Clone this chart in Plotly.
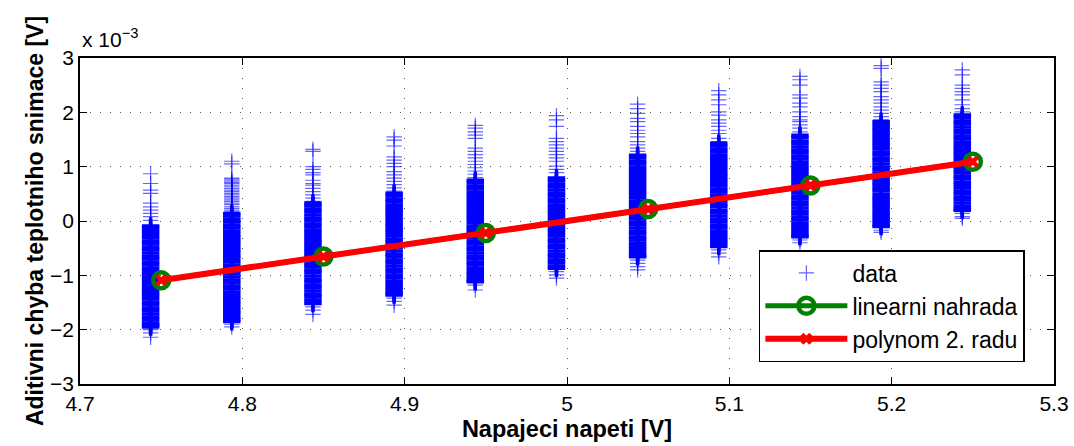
import plotly.graph_objects as go

# Column positions of the measured data [V]
col_x = [4.7435, 4.7935, 4.8435, 4.8935, 4.9435, 4.9935, 5.0435, 5.0935, 5.1435, 5.1935, 5.2435]

# Values in units of 1e-3 V
# sparse (isolated) crosses per column
sparse_1 = [0.87, 0.69, 0.57, 0.51, 0.33, 0.26, 0.20, 0.14, 0.08, 0.01, -2.0, -2.06, -2.14]
sparse_2 = [1.10, 1.05, 0.79, 0.77, 0.74, 0.71, 0.69, 0.66, 0.63, 0.60, 0.57, 0.54, 0.51, 0.48, 0.45,
            0.42, 0.39, 0.36, 0.33, 0.30, 0.26, 0.23, 0.20, 0.17, -1.90, -1.95]
sparse_3 = [1.32, 1.28, 1.0, 0.95, 0.89, 0.85, 0.75, 0.69, 0.66, 0.60, 0.54, 0.48, 0.42, 0.36, -1.58, -1.64, -1.72]
sparse_4 = [1.55, 1.49, 1.38, 1.18, 1.12, 1.06, 1.0, 0.91, 0.85, 0.79, 0.73, 0.67, 0.61, 0.55, -1.42, -1.48, -1.55]
sparse_5 = [1.76, 1.71, 1.64, 1.58, 1.52, 1.34, 1.28, 1.22, 1.16, 1.10, 1.04, 0.98, 0.92, 0.86, 0.80, -1.18, -1.27]
sparse_6 = [1.94, 1.86, 1.74, 1.52, 1.46, 1.40, 1.34, 1.28, 1.22, 1.16, 1.10, 1.01, 0.95, 0.89, -0.93, -0.99, -1.05]
sparse_7 = [2.15, 2.07, 1.98, 1.89, 1.83, 1.74, 1.67, 1.61, 1.55, 1.46, 1.40, 1.34, 1.28, -0.72, -0.78, -0.84, -0.90]
sparse_8 = [2.40, 2.32, 2.23, 2.14, 2.01, 1.95, 1.86, 1.80, 1.74, 1.67, 1.61, 1.52, 1.46, -0.53, -0.59, -0.66]
sparse_9 = [2.66, 2.60, 2.50, 2.32, 2.26, 2.17, 2.10, 2.01, 1.92, 1.86, 1.83, 1.77, 1.71, 1.64, -0.35, -0.40]
sparse_10 = [2.86, 2.81, 2.56, 2.50, 2.44, 2.38, 2.29, 2.23, 2.17, 2.10, 2.04, 1.98, 1.92, 1.86, -0.17, -0.21]
sparse_11 = [2.78, 2.69, 2.50, 2.44, 2.38, 2.32, 2.23, 2.14, 2.07, 2.01, 0.14, 0.08, 0.05]

# dense (overlapping) crosses per column
dense_1 = [-0.09, -0.14, -0.20, -0.25, -0.31, -0.37, -0.42, -0.48, -0.53, -0.59, -0.65, -0.70, -0.76, -0.81,
           -0.87, -0.93, -0.98, -1.04, -1.09, -1.15, -1.21, -1.26, -1.32, -1.37, -1.43, -1.49, -1.54, -1.60,
           -1.65, -1.71, -1.77, -1.82, -1.88, -1.92, -1.95]
dense_2 = [0.14, 0.09, 0.03, -0.02, -0.08, -0.13, -0.19, -0.25, -0.30, -0.36, -0.41, -0.47, -0.53, -0.58,
           -0.64, -0.69, -0.75, -0.81, -0.86, -0.92, -0.97, -1.03, -1.09, -1.14, -1.20, -1.25, -1.31, -1.37,
           -1.42, -1.48, -1.53, -1.59, -1.65, -1.70, -1.76, -1.81, -1.85]
dense_3 = [0.33, 0.28, 0.22, 0.17, 0.11, 0.05, 0.00, -0.06, -0.11, -0.17, -0.23, -0.28, -0.34, -0.39, -0.45,
           -0.51, -0.56, -0.62, -0.67, -0.73, -0.79, -0.84, -0.90, -0.95, -1.01, -1.07, -1.12, -1.18, -1.23,
           -1.29, -1.35, -1.40, -1.46, -1.52]
dense_4 = [0.51, 0.46, 0.40, 0.35, 0.29, 0.23, 0.18, 0.12, 0.07, 0.01, -0.05, -0.10, -0.16, -0.21, -0.27,
           -0.33, -0.38, -0.44, -0.49, -0.55, -0.61, -0.66, -0.72, -0.77, -0.83, -0.89, -0.94, -1.00, -1.05,
           -1.11, -1.17, -1.22, -1.28, -1.33, -1.36]
dense_5 = [0.75, 0.70, 0.64, 0.59, 0.53, 0.47, 0.42, 0.36, 0.31, 0.25, 0.19, 0.14, 0.08, 0.03, -0.03, -0.09,
           -0.14, -0.20, -0.25, -0.31, -0.37, -0.42, -0.48, -0.53, -0.59, -0.65, -0.70, -0.76, -0.81, -0.87,
           -0.93, -0.98, -1.04, -1.09, -1.12]
dense_6 = [0.79, 0.74, 0.68, 0.63, 0.57, 0.51, 0.46, 0.40, 0.35, 0.29, 0.23, 0.18, 0.12, 0.07, 0.01, -0.05,
           -0.10, -0.16, -0.21, -0.27, -0.33, -0.38, -0.44, -0.49, -0.55, -0.61, -0.66, -0.72, -0.77, -0.83, -0.87]
dense_7 = [1.21, 1.16, 1.10, 1.05, 0.99, 0.93, 0.88, 0.82, 0.77, 0.71, 0.65, 0.60, 0.54, 0.49, 0.43, 0.37,
           0.32, 0.26, 0.21, 0.15, 0.09, 0.04, -0.02, -0.07, -0.13, -0.19, -0.24, -0.30, -0.35, -0.41, -0.47,
           -0.52, -0.58, -0.63, -0.66]
dense_8 = [1.43, 1.38, 1.32, 1.27, 1.21, 1.15, 1.10, 1.04, 0.99, 0.93, 0.87, 0.82, 0.76, 0.71, 0.65, 0.59,
           0.54, 0.48, 0.43, 0.37, 0.31, 0.26, 0.20, 0.15, 0.09, 0.03, -0.02, -0.08, -0.13, -0.19, -0.25,
           -0.30, -0.36, -0.41, -0.47]
dense_9 = [1.58, 1.53, 1.47, 1.42, 1.36, 1.30, 1.25, 1.19, 1.14, 1.08, 1.02, 0.97, 0.91, 0.86, 0.80, 0.74,
           0.69, 0.63, 0.58, 0.52, 0.46, 0.41, 0.35, 0.30, 0.24, 0.18, 0.13, 0.07, 0.02, -0.04, -0.10, -0.15,
           -0.21, -0.26, -0.29]
dense_10 = [1.83, 1.78, 1.72, 1.67, 1.61, 1.55, 1.50, 1.44, 1.39, 1.33, 1.27, 1.22, 1.16, 1.11, 1.05, 0.99,
            0.94, 0.88, 0.83, 0.77, 0.71, 0.66, 0.60, 0.55, 0.49, 0.43, 0.38, 0.32, 0.27, 0.21, 0.15, 0.10,
            0.04, -0.01, -0.07, -0.10]
dense_11 = [1.95, 1.90, 1.84, 1.79, 1.73, 1.67, 1.62, 1.56, 1.51, 1.45, 1.39, 1.34, 1.28, 1.23, 1.17, 1.11,
            1.06, 1.00, 0.95, 0.89, 0.83, 0.78, 0.72, 0.67, 0.61, 0.55, 0.50, 0.44, 0.39, 0.33, 0.27, 0.22, 0.20]

sparse_cols = [sparse_1, sparse_2, sparse_3, sparse_4, sparse_5, sparse_6, sparse_7, sparse_8, sparse_9,
               sparse_10, sparse_11]
dense_cols = [dense_1, dense_2, dense_3, dense_4, dense_5, dense_6, dense_7, dense_8, dense_9, dense_10, dense_11]

# Fitted curves
fit_x = [4.75, 4.85, 4.95, 5.05, 5.15, 5.25]
lin_y = [-1.09, -0.655, -0.22, 0.22, 0.655, 1.09]
poly_y = [-1.09, -0.655, -0.22, 0.22, 0.655, 1.09]

x_ticks = [4.7, 4.8, 4.9, 5.0, 5.1, 5.2, 5.3]
x_ticktext = ["4.7", "4.8", "4.9", "5", "5.1", "5.2", "5.3"]
y_ticks = [-3, -2, -1, 0, 1, 2, 3]
y_ticktext = ["\u22123", "\u22122", "\u22121", "0", "1", "2", "3"]

sx, sy, dx, dy = [], [], [], []
for cx, sv, dv in zip(col_x, sparse_cols, dense_cols):
    sx += [cx] * len(sv)
    sy += sv
    dx += [cx] * len(dv)
    dy += dv

FONT = "Liberation Sans, Arial, Helvetica, sans-serif"

fig = go.Figure()
fig.add_trace(go.Scatter(
    x=dx, y=dy, mode="markers", showlegend=False, hoverinfo="skip",
    marker=dict(symbol="cross-thin", size=12.5, line=dict(color="rgb(0,0,255)", width=3.5)),
))
fig.add_trace(go.Scatter(
    x=sx, y=sy, mode="markers", name="data",
    marker=dict(symbol="cross-thin", size=11, line=dict(color="rgba(0,0,255,0.6)", width=1.2)),
))
fig.add_trace(go.Scatter(
    x=fit_x, y=lin_y, mode="lines+markers", name="linearni nahrada",
    line=dict(color="rgb(0,128,0)", width=5),
    marker=dict(symbol="circle-open", size=16, color="rgb(0,128,0)", line=dict(width=4.5, color="rgb(0,128,0)")),
))
fig.add_trace(go.Scatter(
    x=fit_x, y=poly_y, mode="lines+markers", name="polynom 2. radu",
    line=dict(color="rgb(255,0,0)", width=6),
    marker=dict(symbol="x-thin", size=9, color="rgb(255,0,0)", line=dict(width=4.5, color="rgb(255,0,0)")),
))

axis_common = dict(
    showline=True, linecolor="black", linewidth=1.5, mirror="ticks",
    ticks="inside", ticklen=7, tickwidth=1.2, tickcolor="black",
    showgrid=True, gridcolor="rgba(0,0,0,0.65)", gridwidth=1, griddash="1px,9px",
    zeroline=False, automargin=False, tickfont=dict(family=FONT, size=21, color="black"),
)

fig.update_xaxes(
    range=[4.7, 5.3], tickvals=x_ticks, ticktext=x_ticktext,
    title=dict(text="<b>Napajeci napeti [V]</b>", font=dict(family=FONT, size=23.5, color="black"), standoff=7),
    **axis_common,
)
fig.update_yaxes(
    range=[-3, 3], tickvals=y_ticks, ticktext=y_ticktext,
    title=dict(text="<b>Aditivni chyba teplotniho snimace [V]</b>", font=dict(family=FONT, size=23, color="black"),
               standoff=0),
    **axis_common,
)

fig.add_annotation(
    xref="paper", yref="paper", x=0, y=1.015, xanchor="left", yanchor="bottom",
    text="x 10<sup>\u22123</sup>", showarrow=False, font=dict(family=FONT, size=21, color="black"),
)

fig.update_layout(
    width=1074, height=446,
    margin=dict(l=80, r=20, t=58, b=62),
    paper_bgcolor="white", plot_bgcolor="white",
    font=dict(family=FONT, color="black"),
    legend=dict(
        x=0.697, y=0.411, xanchor="left", yanchor="top",
        bgcolor="white", bordercolor="black", borderwidth=1.5,
        font=dict(family=FONT, size=23, color="black"),
        itemwidth=82, tracegroupgap=0,
    ),
    showlegend=True,
)

fig.write_html("out.html", config={"displayModeBar": False},
               post_script="document.body.style.margin='0';")
